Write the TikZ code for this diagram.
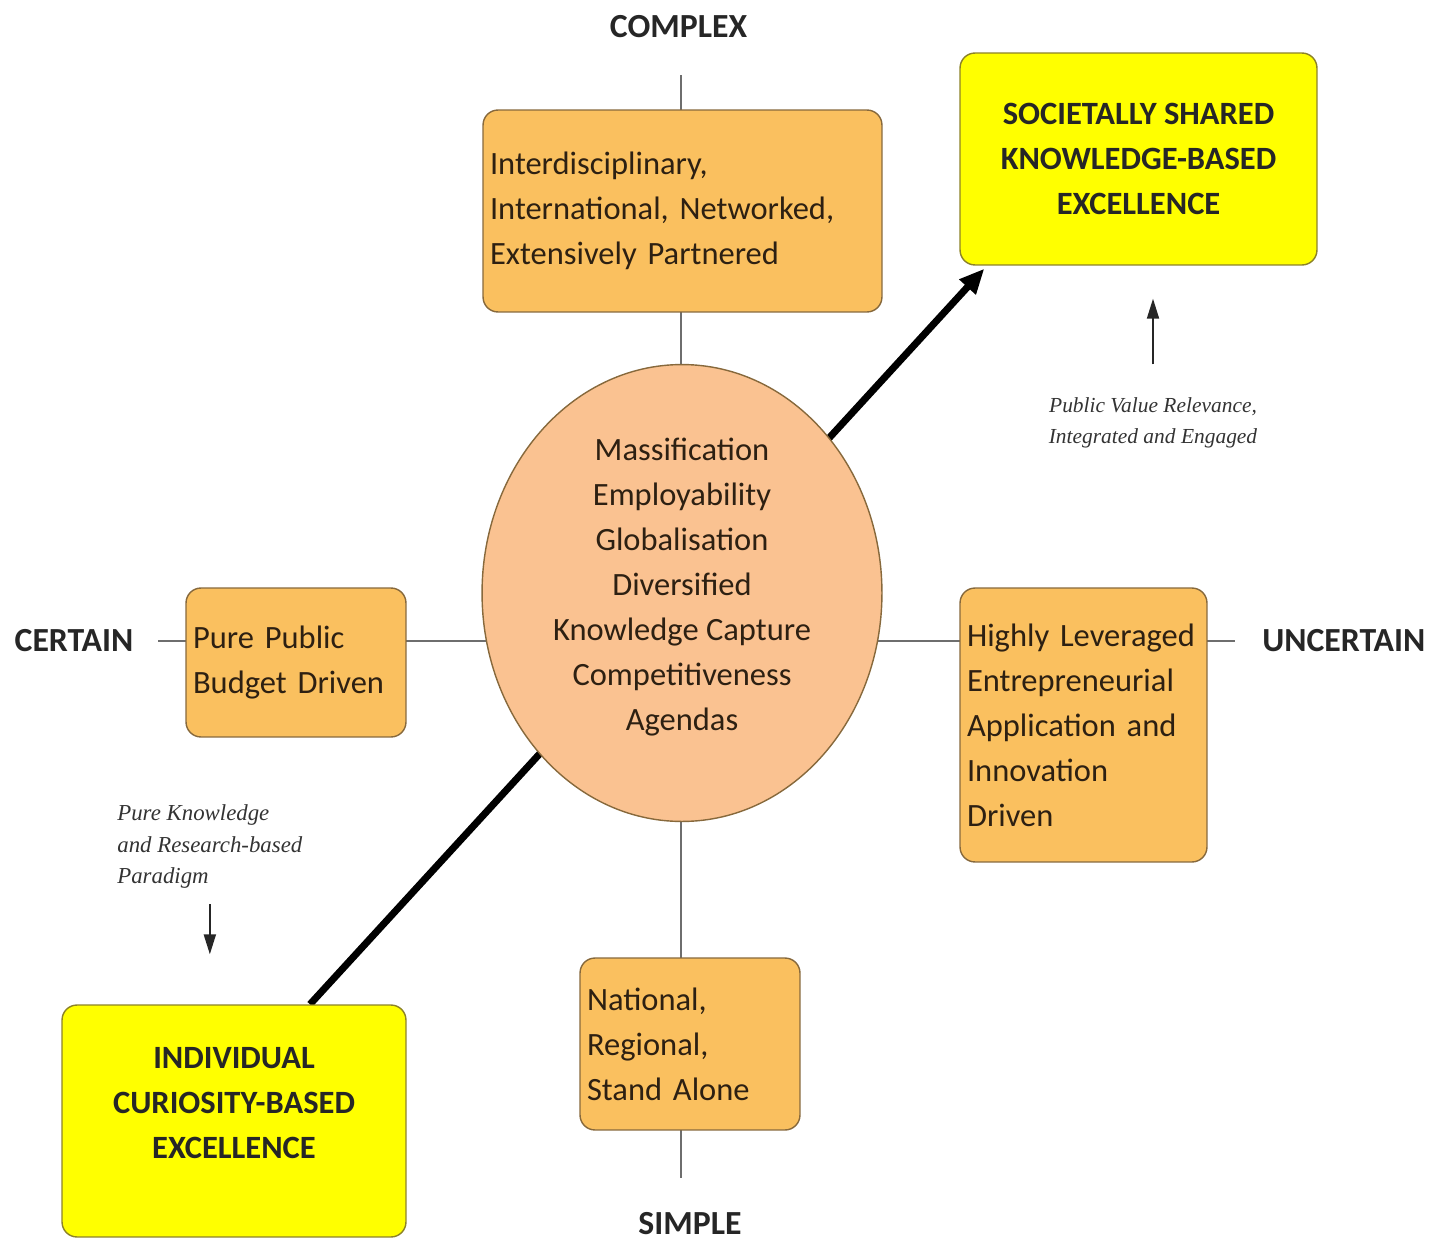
\documentclass[tikz,border=0pt]{standalone}
\usepackage{fontspec}
\setmainfont{Carlito}
\newfontfamily\notefont{Liberation Serif}
\usetikzlibrary{shapes.geometric,positioning,backgrounds,arrows.meta}

\definecolor{boxfill}{RGB}{250,192,95}
\definecolor{boxline}{RGB}{135,105,60}
\definecolor{hubfill}{RGB}{250,194,145}
\definecolor{goalfill}{RGB}{255,255,0}
\definecolor{goalline}{RGB}{140,130,40}
\definecolor{axisgray}{RGB}{110,110,110}
\definecolor{inktext}{RGB}{45,32,18}

\newcommand{\boxfont}{\fontsize{18.5}{25.6}\selectfont}
\newcommand{\axisfont}{\fontsize{19.2}{25.6}\selectfont}

\tikzset{
    quadbox/.style={draw=boxline, fill=boxfill, line width=0.8pt, rounded corners=0.3cm,
        inner xsep=0.14cm, inner ysep=0pt, align=left, font=\boxfont, text=inktext},
    goalbox/.style={draw=goalline, fill=goalfill, line width=0.8pt, rounded corners=0.3cm,
        align=center, font=\boxfont\bfseries, text=black!85},
    axislabel/.style={inner sep=0pt, font=\axisfont\bfseries, text=black!85},
    note/.style={inner sep=0pt, text=black!80},
    axisline/.style={draw=axisgray, line width=0.9pt},
    thinarrow/.style={draw=black!85, line width=1.1pt, -{Triangle[length=0.4cm, width=0.24cm]}},
}

\begin{document}
\begin{tikzpicture}[x=0.02cm, y=-0.02cm]
    \useasboundingbox (0,0) rectangle (1437,1241);

    % centre
    \node[ellipse, draw=boxline, fill=hubfill, line width=0.8pt, inner sep=0pt,
          minimum width=8cm, minimum height=9.14cm, align=center, text depth=10pt,
          font=\boxfont, text=inktext] (hub) at (682,593)
        {Massification\\Employability\\Globalisation\\Diversified\\Knowledge Capture\\Competitiveness\\Agendas};

    % quadrant boxes
    \node[quadbox, text width=7.70cm, minimum height=4.04cm] (top) at (682.5,211)
        {Interdisciplinary,\\International, Networked,\\Extensively Partnered};
    \node[quadbox, text width=4.12cm, minimum height=2.98cm] (left) at (296,662.5)
        {Pure Public\\Budget Driven};
    \node[quadbox, text width=4.66cm, minimum height=5.48cm] (right) at (1083.5,725)
        {Highly Leveraged\\Entrepreneurial\\Application and\\Innovation\\Driven};
    \node[quadbox, text width=4.12cm, minimum height=3.44cm] (bot) at (690,1044)
        {National,\\Regional,\\Stand Alone};

    % excellence
    \node[goalbox, minimum width=7.14cm, minimum height=4.24cm] (shared) at (1138.5,159)
        {SOCIETALLY SHARED\\KNOWLEDGE-BASED\\EXCELLENCE};
    \node[goalbox, minimum width=6.88cm, minimum height=4.64cm, text depth=20.5pt] (curious) at (234,1121)
        {INDIVIDUAL\\CURIOSITY-BASED\\EXCELLENCE};

    % axis labels
    \node[axislabel, above=1.43cm of top, xshift=-0.08cm] (cplx) {COMPLEX};
    \node[axislabel, below=1.63cm of bot] (simp) {SIMPLE};
    \node[axislabel] (cert) at (74,641) {CERTAIN};
    \node[axislabel, anchor=west] (uncert) at (1262,641) {UNCERTAIN};

    % notes
    \node[note, align=center, font=\notefont\itshape\fontsize{12.2}{17.6}\selectfont] (pubval) at (1153,423)
        {Public Value Relevance,\\Integrated and Engaged};
    \node[note, align=left, font=\notefont\itshape\fontsize{13}{18.1}\selectfont, anchor=north west] (pkr) at (117,804)
        {Pure Knowledge\\and Research-based\\Paradigm};

    \coordinate (axT) at (681,75);
    \coordinate (axB) at (681,1178);
    \coordinate (axL) at (158,641);
    \coordinate (axR) at (1235,641);

    \begin{scope}[on background layer]
        \draw[axisline] (axT) -- (axB);
        \draw[axisline] (axL) -- (axR);
        \draw[line width=4pt, -{Triangle[length=0.5cm, width=0.42cm]}]
            ([xshift=1.52cm]curious.north) -- ([xshift=0.5cm, yshift=-0.06cm]shared.south west);
    \end{scope}

    \draw[thinarrow, shorten <=0.66cm, shorten >=0.66cm] (pubval.north) -- (pubval.north |- shared.south);
    \draw[thinarrow, shorten <=0.3cm, shorten >=1cm] (pkr.south) -- (pkr.south |- curious.north);
\end{tikzpicture}
\end{document}
